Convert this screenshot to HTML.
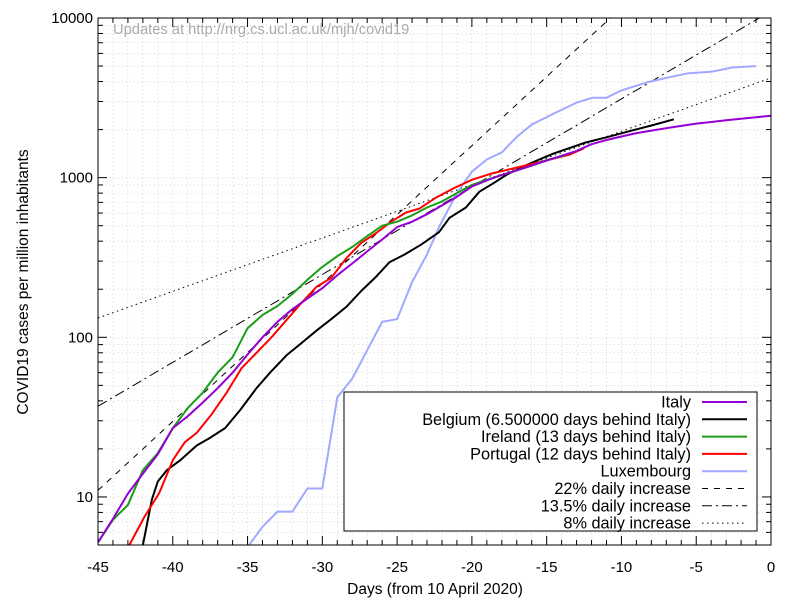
<!DOCTYPE html>
<html><head><meta charset="utf-8"><style>
body{margin:0;background:#fff}
svg{font-family:"Liberation Sans",Arial,sans-serif}
</style></head><body>
<svg id="chart" width="800" height="600" xmlns="http://www.w3.org/2000/svg">
<rect width="800" height="600" fill="#fff"/>
<g id="grid"></g>
<g id="lines"></g>
<g id="axes"></g>
<text x="113" y="34" font-size="14.7" fill="#aaa">Updates at http://nrg.cs.ucl.ac.uk/mjh/covid19</text>
<text x="435" y="594" font-size="15.5" text-anchor="middle">Days (from 10 April 2020)</text>
<text transform="translate(28,282) rotate(-90)" font-size="15.5" text-anchor="middle">COVID19 cases per million inhabitants</text>
<g id="legend"></g>
</svg>
<script>
const italyDays=[-45,-44,-43,-42,-41,-40,-39,-38,-37,-36,-35,-34,-33,-32,-31,-30,-29,-28,-27,-26,-25,-24,-23,-22,-21,-20,-19,-18,-17,-16,-15,-14,-13,-12,-11,-10,-9,-8,-7,-6,-5,-4,-3,-2,-1,0];
const italyVals=[5.2,7.3,10.5,14,18.5,27,32,39,48,60,78,100,125,150,175,203,245,290,345,410,490,530,590,670,760,880,960,1040,1110,1190,1280,1370,1470,1620,1720,1810,1900,1970,2040,2110,2180,2230,2290,2340,2390,2440];
const belgiumDays=[-42,-41.4,-41,-40.4,-39.5,-38.4,-37.5,-36.5,-35.5,-34.4,-33.5,-32.4,-31.4,-30.4,-29.4,-28.4,-27.4,-26.4,-25.5,-24.5,-23.4,-22.2,-21.5,-20.4,-19.5,-18.5,-17.7,-16.5,-15.5,-14.5,-13.5,-12.4,-11,-9.5,-8,-6.5];
const belgiumVals=[5,9.6,12.5,14.7,17,21,23.5,27,35,48,60,77,92,110,130,155,195,240,296,330,380,455,560,650,817,930,1040,1180,1300,1420,1530,1660,1790,1950,2120,2320];
const irelandDays=[-45,-44,-43,-42,-41,-40,-39,-38,-37,-36,-35,-34,-33,-32,-31,-30,-29,-28,-27,-26,-25,-24,-23,-22,-21,-20,-19,-18,-17,-16,-15,-14,-13.5];
const irelandVals=[5.2,7.2,8.9,14.7,18.8,27,36,45,60,75,114,138,157,187,229,276,322,368,430,500,530,580,650,710,800,900,970,1040,1110,1190,1290,1360,1420];
const portugalDays=[-42.9,-41.9,-40.9,-40,-39.2,-38.4,-37.4,-36.4,-35.4,-34.4,-33.4,-32.4,-31.4,-30.4,-29.4,-28.4,-27.4,-26.4,-25.4,-24.4,-23.5,-22.4,-21.2,-20,-18.7,-17.3,-15.5,-13.5,-12.5];
const portugalVals=[5,7.5,10.6,17,22,25.2,33,45,64,80,100,128,164,207,236,313,390,450,530,605,640,750,860,970,1060,1140,1250,1390,1530];
const luxDays=[-34.9,-34,-33,-32,-31,-30,-29,-28,-27,-26,-25,-24,-23,-22.2,-21,-20,-19,-18,-17,-16,-14.6,-13,-11.9,-11,-10,-8.3,-6.8,-5.5,-4,-2.6,-1];
const luxVals=[5,6.5,8.1,8.1,11.3,11.3,42,55,83,125,130,222,330,490,800,1090,1300,1440,1800,2150,2500,2950,3170,3170,3520,3950,4260,4510,4600,4900,5000];
const rateLabels=["22% daily increase","13.5% daily increase","8% daily increase"];
const rates=[0.22,0.135,0.08];
const rateStartVals=[11,37,132];
const xTicks=[-45,-40,-35,-30,-25,-20,-15,-10,-5,0];
const yTicks=[10,100,1000,10000];
const seriesNames=["Italy","Belgium (6.500000 days behind Italy)","Ireland (13 days behind Italy)","Portugal (12 days behind Italy)","Luxembourg"];

const L=98,R=771,T=18,B=545,XMIN=-45,XMAX=0,YMIN=Math.log10(5),YMAX=4;
const xs=d=>L+(d-XMIN)/(XMAX-XMIN)*(R-L);
const ys=v=>B-(Math.log10(v)-YMIN)/(YMAX-YMIN)*(B-T);
const NS="http://www.w3.org/2000/svg";
function mk(tag,attrs,parent){const e=document.createElementNS(NS,tag);for(const k in attrs)e.setAttribute(k,attrs[k]);parent.appendChild(e);return e;}
const grid=document.getElementById('grid'),axes=document.getElementById('axes'),lines=document.getElementById('lines'),leg=document.getElementById('legend');
for(let d=-44;d<0;d++){const g=mk('line',{x1:xs(d),x2:xs(d),y1:T,y2:B,stroke:'#bbb','stroke-width':0.6,'stroke-dasharray':'1 3'},grid);

}
const minors=[];
for(let e=0;e<4;e++)for(let m=1;m<10;m++){const v=m*Math.pow(10,e);if(v>5&&v<10000)minors.push(v);}
minors.forEach(v=>{const g=mk('line',{x1:L,x2:R,y1:ys(v),y2:ys(v),stroke:'#bbb','stroke-width':0.6,'stroke-dasharray':'1 3'},grid);


const isMaj=yTicks.includes(v);const len=isMaj?9:5;
mk('line',{x1:L,x2:L+len,y1:ys(v),y2:ys(v),stroke:'#000'},axes);
mk('line',{x1:R-len,x2:R,y1:ys(v),y2:ys(v),stroke:'#000'},axes);});
for(let d=-44;d<0;d++){const isMaj=d%5===0;const len=isMaj?9:5;
mk('line',{x1:xs(d),x2:xs(d),y1:B,y2:B-len,stroke:'#000'},axes);
mk('line',{x1:xs(d),x2:xs(d),y1:T,y2:T+len,stroke:'#000'},axes);}
const frame=mk('rect',{x:L,y:T,width:R-L,height:B-T,fill:'none',stroke:'#000','stroke-width':1},axes);


xTicks.forEach(d=>{const t=mk('text',{x:xs(d),y:B+27,'font-size':15,'text-anchor':'middle'},axes);t.textContent=d;

});
yTicks.forEach(v=>{const t=mk('text',{x:L-5,y:ys(v)+5,'font-size':15,'text-anchor':'end'},axes);t.textContent=v;

});
const defs=mk('defs',{},document.getElementById('chart'));
const cp=mk('clipPath',{id:'clip'},defs);mk('rect',{x:L,y:T,width:R-L,height:B-T},cp);
lines.setAttribute('clip-path','url(#clip)');
const dashes=['6 6','10 4 2 4','1.5 3.5'];
rates.forEach((r,i)=>{let p='';for(let d=XMIN;d<=XMAX;d+=0.5){const v=rateStartVals[i]*Math.pow(1+r,d-XMIN);p+=(p?'L':'M')+xs(d).toFixed(1)+','+ys(v).toFixed(1);}
const e=mk('path',{d:p,fill:'none',stroke:'#000','stroke-width':1,'stroke-dasharray':dashes[i]},lines);

});
const series=[[italyDays,italyVals,'#9400d3'],[belgiumDays,belgiumVals,'#000'],[irelandDays,irelandVals,'#1a9e1a'],[portugalDays,portugalVals,'#ff0000'],[luxDays,luxVals,'#a0a8ff']];
const drawOrder=[4,1,3,2,0];
drawOrder.forEach(i=>{const [dd,vv,c]=series[i];const p=dd.map((d,j)=>(j?'L':'M')+xs(d).toFixed(1)+','+ys(vv[j]).toFixed(1)).join('');
const e=mk('path',{d:p,fill:'none',stroke:c,'stroke-width':2,'stroke-linejoin':'round'},lines);

});
const box=mk('rect',{x:344,y:392,width:413,height:139,fill:'#fff',stroke:'#000'},leg);


const labels=seriesNames.concat(rateLabels);
labels.forEach((lab,i)=>{const y=402+i*17.3;
const t=mk('text',{x:691,y:y+5.5,'font-size':16.3,'text-anchor':'end'},leg);t.textContent=lab;


const attrs=i<5?{stroke:series[i][2],'stroke-width':2}:{stroke:'#000','stroke-width':1,'stroke-dasharray':dashes[i-5]};
const s=mk('line',Object.assign({x1:702,x2:747,y1:y,y2:y},attrs),leg);

});
</script>
</body></html>
